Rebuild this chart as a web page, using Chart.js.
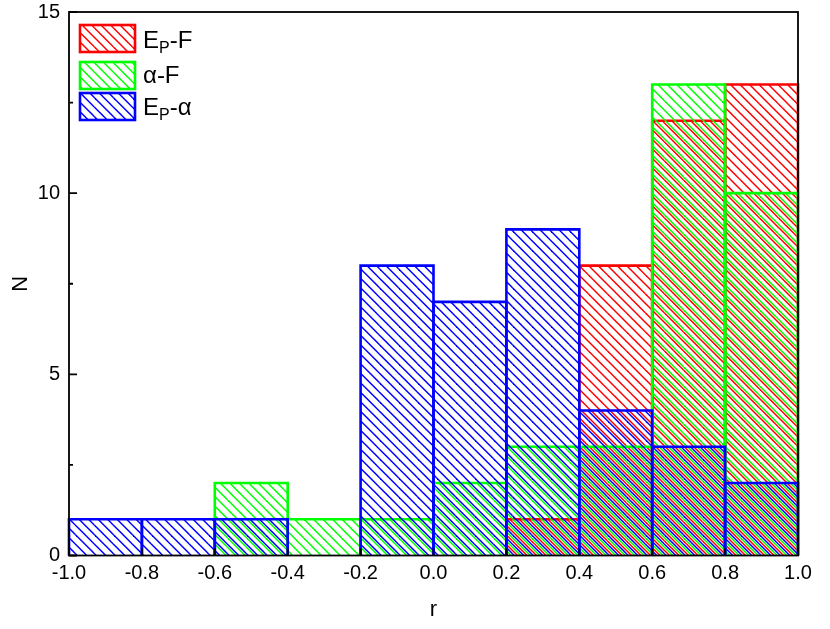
<!DOCTYPE html>
<html>
<head>
<meta charset="utf-8">
<script src="https://cdn.jsdelivr.net/npm/chart.js@4.4.1/dist/chart.umd.min.js"></script>
<style>
  html, body { margin: 0; padding: 0; background: #fff; }
  #wrap { width: 830px; height: 629px; }
</style>
</head>
<body>
<div id="wrap"><canvas id="myChart" width="830" height="629"></canvas></div>
<script>
// histogram bins of r, width 0.2
const binCenters = [-0.9, -0.7, -0.5, -0.3, -0.1, 0.1, 0.3, 0.5, 0.7, 0.9];
const epF = [0, 0, 0, 0, 0, 0, 1, 8, 12, 13];
const alphaF = [0, 0, 2, 1, 1, 2, 3, 3, 13, 10];
const epAlpha = [1, 1, 1, 0, 8, 7, 9, 4, 3, 2];

const xTicks = [-1.0, -0.8, -0.6, -0.4, -0.2, 0.0, 0.2, 0.4, 0.6, 0.8, 1.0];
const yTicks = [0, 5, 10, 15];
const yMinorTicks = [2.5, 7.5, 12.5];

// legend text: main, subscript, rest
const seriesNames = [
  ["E", "P", "-F"],
  ["α-F", "", ""],
  ["E", "P", "-α"],
];

const FONT = "'Liberation Sans', Arial, Helvetica, sans-serif";

function makeHatch(color, offset) {
  const size = 19;
  const c = document.createElement("canvas");
  c.width = size;
  c.height = size;
  const g = c.getContext("2d");
  g.strokeStyle = color;
  g.lineWidth = 1.5;
  for (let k = -3; k <= 2; k++) {
    const x0 = offset + k * 9.5;
    g.beginPath();
    g.moveTo(x0 - 3, -3);
    g.lineTo(x0 + size + 3, size + 3);
    g.stroke();
  }
  return g.createPattern(c, "repeat");
}

const redHatch = makeHatch("#ff0000", 0);
const greenHatch = makeHatch("#00ff00", 3.2);
const blueHatch = makeHatch("#0000ff", 6.3);

function toPoints(values) {
  return binCenters.map((x, i) => ({ x: x, y: values[i] ? values[i] : null }));
}

// bar outlines, stroked centred on the bar edges
const outlinePlugin = {
  id: "outline",
  afterDatasetDraw(chart, args) {
    const ds = chart.data.datasets[args.index];
    const ctx = chart.ctx;
    ctx.save();
    ctx.strokeStyle = ds.edgeColor;
    ctx.lineWidth = 2.6;
    args.meta.data.forEach((bar, i) => {
      if (ds.data[i].y == null) return;
      const p = bar.getProps(["x", "y", "base", "width"], true);
      const l = p.x - p.width / 2;
      const r = p.x + p.width / 2;
      ctx.beginPath();
      ctx.moveTo(l, p.base);
      ctx.lineTo(l, p.y);
      ctx.lineTo(r, p.y);
      ctx.lineTo(r, p.base);
      ctx.stroke();
    });
    ctx.restore();
  },
};

// frame and inward ticks
const framePlugin = {
  id: "frame",
  afterDatasetsDraw(chart) {
    const { ctx, chartArea: a, scales } = chart;
    ctx.save();
    ctx.strokeStyle = "#000";
    ctx.lineWidth = 1.8;
    ctx.strokeRect(a.left, a.top, a.right - a.left, a.bottom - a.top);
    ctx.beginPath();
    yTicks.forEach((v) => {
      const y = scales.y.getPixelForValue(v);
      ctx.moveTo(a.left, y);
      ctx.lineTo(a.left + 8, y);
    });
    yMinorTicks.forEach((v) => {
      const y = scales.y.getPixelForValue(v);
      ctx.moveTo(a.left, y);
      ctx.lineTo(a.left + 4, y);
    });
    xTicks.forEach((v) => {
      const x = scales.x.getPixelForValue(v);
      ctx.moveTo(x, a.bottom);
      ctx.lineTo(x, a.bottom - 7);
    });
    ctx.stroke();
    ctx.restore();
  },
};

const legendPlugin = {
  id: "hatchLegend",
  afterDraw(chart) {
    const ctx = chart.ctx;
    const rows = [
      { top: 25, base: 48 },
      { top: 62, base: 83 },
      { top: 93, base: 115 },
    ];
    const fills = [redHatch, greenHatch, blueHatch];
    const edges = ["#ff0000", "#00ff00", "#0000ff"];
    ctx.save();
    rows.forEach((row, i) => {
      ctx.fillStyle = fills[i];
      ctx.fillRect(80, row.top, 55, 27);
      ctx.strokeStyle = edges[i];
      ctx.lineWidth = 2.6;
      ctx.strokeRect(80, row.top, 55, 27);

      const [main, sub, rest] = seriesNames[i];
      let x = 143;
      ctx.fillStyle = "#000";
      ctx.textBaseline = "alphabetic";
      ctx.textAlign = "left";
      ctx.font = "24px " + FONT;
      ctx.fillText(main, x, row.base);
      x += ctx.measureText(main).width;
      if (sub) {
        ctx.font = "16px " + FONT;
        ctx.fillText(sub, x, row.base + 5);
        x += ctx.measureText(sub).width;
      }
      if (rest) {
        ctx.font = "24px " + FONT;
        ctx.fillText(rest, x, row.base);
      }
    });
    ctx.restore();
  },
};

const ctx = document.getElementById("myChart").getContext("2d");
const myChart = new Chart(ctx, {
  type: "bar",
  data: {
    datasets: [
      {
        label: "EP-F",
        data: toPoints(epF),
        backgroundColor: redHatch,
        edgeColor: "#ff0000",
        order: 2,
      },
      {
        label: "α-F",
        data: toPoints(alphaF),
        backgroundColor: greenHatch,
        edgeColor: "#00ff00",
        order: 1,
      },
      {
        label: "EP-α",
        data: toPoints(epAlpha),
        backgroundColor: blueHatch,
        edgeColor: "#0000ff",
        order: 0,
      },
    ],
  },
  options: {
    responsive: false,
    animation: false,
    events: [],
    datasets: {
      bar: {
        grouped: false,
        barPercentage: 1,
        categoryPercentage: 1,
        borderWidth: 0,
        inflateAmount: 0,
      },
    },
    layout: { padding: { left: 0, right: 32, top: 12, bottom: 0 } },
    plugins: {
      legend: { display: false },
      tooltip: { enabled: false },
    },
    scales: {
      x: {
        type: "linear",
        min: -1,
        max: 1,
        offset: false,
        grid: { display: false, drawTicks: false },
        border: { display: false },
        afterBuildTicks: (scale) => {
          scale.ticks = xTicks.map((v) => ({ value: v }));
        },
        afterFit: (scale) => {
          scale.height = 73.5;
          scale.paddingLeft = 0;
          scale.paddingRight = 0;
        },
        ticks: {
          padding: 6,
          maxRotation: 0,
          autoSkip: false,
          color: "#000",
          font: { family: FONT, size: 20 },
          callback: (v) => Number(v).toFixed(1),
        },
        title: {
          display: true,
          text: "r",
          color: "#000",
          font: { family: FONT, size: 22 },
          padding: { top: 10, bottom: 6 },
        },
      },
      y: {
        min: 0,
        max: 15,
        grid: { display: false, drawTicks: false },
        border: { display: false },
        afterBuildTicks: (scale) => {
          scale.ticks = yTicks.map((v) => ({ value: v }));
        },
        afterFit: (scale) => {
          scale.width = 69;
          scale.paddingTop = 0;
          scale.paddingBottom = 0;
        },
        ticks: {
          padding: 9,
          color: "#000",
          font: { family: FONT, size: 20 },
        },
        title: {
          display: true,
          text: "N",
          color: "#000",
          font: { family: FONT, size: 22 },
          padding: { top: 8, bottom: 8 },
        },
      },
    },
  },
  plugins: [outlinePlugin, framePlugin, legendPlugin],
});
</script>
</body>
</html>
